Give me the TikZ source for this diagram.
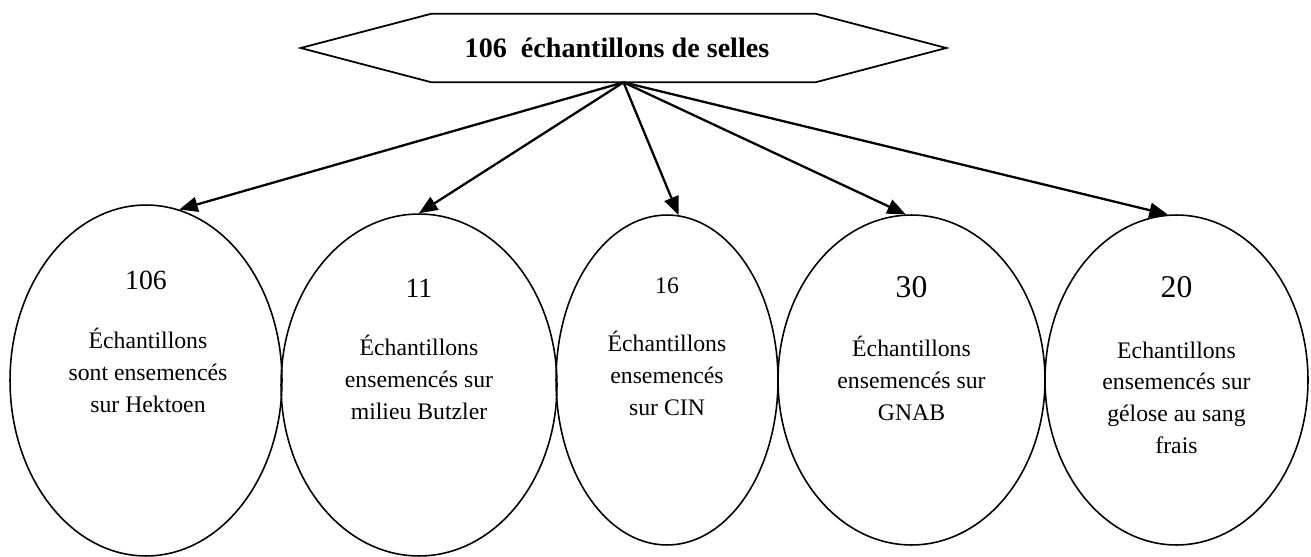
\documentclass[tikz,border=0pt]{standalone}
\usepackage{fontspec}
\setmainfont{Liberation Serif}
\usetikzlibrary{arrows.meta,shapes.geometric,calc}
\begin{document}
\begin{tikzpicture}[x=0.02cm,y=-0.02cm,
  ell/.style={draw,ellipse,inner sep=0pt,line width=0.9pt},
  num/.style={anchor=base,inner sep=0pt},
  bodytxt/.style={anchor=base,align=center,inner sep=0pt,font=\fontsize{13.5}{18}\selectfont},
  arr/.style={line width=1.3pt,-{Triangle[length=10.5pt,width=8.5pt]}},
  hexbox/.style={minimum width=7.66cm,minimum height=1.36cm,inner sep=0pt},
  hexline/.style={line width=1pt,line join=miter},
  ttl/.style={font=\fontsize{16}{19}\selectfont\bfseries,inner sep=0pt}
]
\useasboundingbox (0,0) rectangle (1311,557);

% top hexagon
\node[hexbox] (hex) at (623.5,48) {};
\draw[hexline] (hex.north west) -- (hex.north east) -- ($(hex.east)+(131,0)$)
  -- (hex.south east) -- (hex.south west) -- ($(hex.west)+(-131,0)$) -- cycle;
\node[ttl] (title) at (617,48) {106~~échantillons de selles};

% ellipses
\node[ell,minimum width=5.44cm,minimum height=7.02cm] (e1) at (146,380.5) {};
\node[ell,minimum width=5.52cm,minimum height=6.84cm] (e2) at (419,385) {};
\node[ell,minimum width=4.44cm,minimum height=6.6cm] (e3) at (667,380) {};
\node[ell,minimum width=5.34cm,minimum height=6.6cm] (e4) at (911.5,380) {};
\node[ell,minimum width=5.26cm,minimum height=6.6cm] (e5) at (1176.5,380) {};

% numbers
\node[num,font=\fontsize{15.8}{18}\selectfont] (n1) at (146,289) {106};
\node[num,font=\fontsize{15.8}{18}\selectfont] (n2) at (419,297) {11};
\node[num,font=\fontsize{13.5}{16}\selectfont] (n3) at (667,293) {16};
\node[num,font=\fontsize{18}{20}\selectfont] (n4) at (911.5,297) {30};
\node[num,font=\fontsize{18}{20}\selectfont] (n5) at (1176.5,297) {20};

% texts (base anchor = baseline of last line)
\node[bodytxt] (t1) at (148,412) {Échantillons\\sont ensemencés\\sur Hektoen};
\node[bodytxt] (t2) at (419,419) {Échantillons\\ensemencés sur\\milieu Butzler};
\node[bodytxt] (t3) at (667,415) {Échantillons\\ensemencés\\sur CIN};
\node[bodytxt] (t4) at (911.5,420) {Échantillons\\ensemencés sur\\GNAB};
\node[bodytxt] (t5) at (1176.5,453) {Echantillons\\ensemencés sur\\gélose au sang\\frais};

% arrows
\draw[arr] (hex.south) -- (e1.79);
\draw[arr] (hex.south) -- (e2.north);
\draw[arr] (hex.south) -- (e3.86);
\draw[arr] (hex.south) -- (e4.92);
\draw[arr] (hex.south) -- (e5.93);
\end{tikzpicture}
\end{document}
